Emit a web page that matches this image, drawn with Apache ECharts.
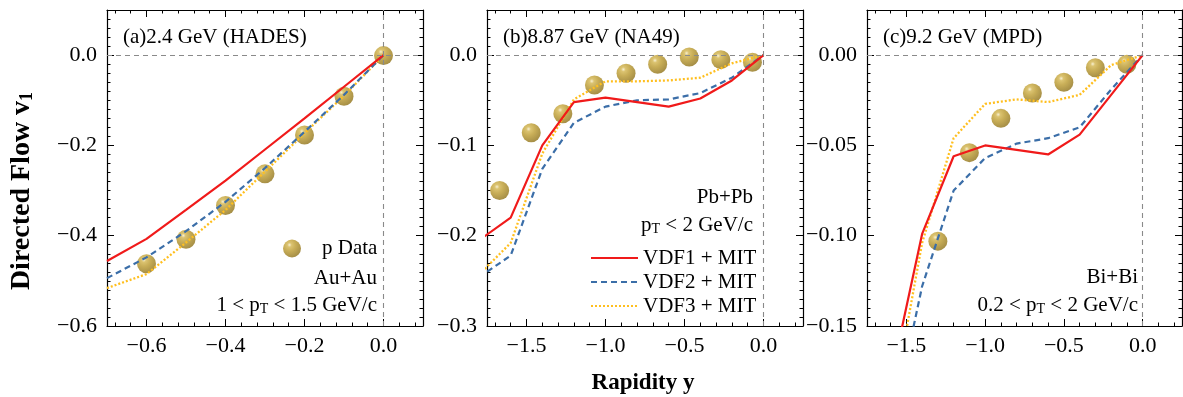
<!DOCTYPE html>
<html>
<head>
<meta charset="utf-8">
<script src="https://cdn.jsdelivr.net/npm/echarts@6/dist/echarts.min.js"></script>
<style>
html,body{margin:0;padding:0;background:#fff;}
#chart{width:1183px;height:397px;}
</style>
</head>
<body>
<div id="chart"></div>
<script>
// ---------------- DATA ----------------
// Panel (a) 2.4 GeV HADES
const aDataX = [-0.6, -0.5, -0.4, -0.3, -0.2, -0.1, 0.0];
const aDataY = [-0.462, -0.408, -0.333, -0.263, -0.177, -0.091, -0.001];
const aLineX = [-0.7, -0.6, -0.5, -0.4, -0.3, -0.2, -0.1, 0.0];
const aVDF1 = [-0.456, -0.407, -0.343, -0.278, -0.209, -0.140, -0.070, 0.0];
const aVDF2 = [-0.494, -0.448, -0.390, -0.325, -0.250, -0.170, -0.088, 0.0];
const aVDF3 = [-0.516, -0.485, -0.415, -0.343, -0.258, -0.173, -0.090, 0.0];

// Panel (b) 8.87 GeV NA49
const bDataX = [-1.67, -1.47, -1.27, -1.07, -0.87, -0.67, -0.47, -0.27, -0.07];
const bDataY = [-0.150, -0.086, -0.065, -0.033, -0.020, -0.010, -0.002, -0.005, -0.008];
const bLineX = [-1.8, -1.6, -1.4, -1.2, -1.0, -0.8, -0.6, -0.4, -0.2, 0.0];
const bVDF1 = [-0.205, -0.180, -0.100, -0.052, -0.047, -0.052, -0.057, -0.048, -0.028, 0.0];
const bVDF2 = [-0.246, -0.222, -0.126, -0.075, -0.057, -0.050, -0.049, -0.042, -0.025, 0.0];
const bVDF3 = [-0.243, -0.208, -0.109, -0.049, -0.029, -0.029, -0.028, -0.025, -0.009, 0.0];

// Panel (c) 9.2 GeV MPD
const cDataX = [-1.3, -1.1, -0.9, -0.7, -0.5, -0.3, -0.1];
const cDataY = [-0.103, -0.054, -0.035, -0.021, -0.015, -0.007, -0.005];
const cLineX = [-1.6, -1.4, -1.2, -1.0, -0.8, -0.6, -0.4, -0.2, 0.0];
const cVDF1 = [-0.180, -0.099, -0.056, -0.050, -0.0525, -0.055, -0.044, -0.022, 0.0];
const cVDF2 = [-0.210, -0.128, -0.075, -0.057, -0.049, -0.046, -0.040, -0.019, 0.0];
const cVDF3 = [-0.200, -0.104, -0.046, -0.027, -0.0245, -0.026, -0.022, -0.0055, 0.0];

// Tick values and labels
const aXTicks = [-0.6, -0.4, -0.2, 0.0];
const aXLabels = ['\u22120.6', '\u22120.4', '\u22120.2', '0.0'];
const aYTicks = [-0.6, -0.4, -0.2, 0.0];
const aYLabels = ['\u22120.6', '\u22120.4', '\u22120.2', '0.0'];
const bcXTicks = [-1.5, -1.0, -0.5, 0.0];
const bcXLabels = ['\u22121.5', '\u22121.0', '\u22120.5', '0.0'];
const bYTicks = [-0.3, -0.2, -0.1, 0.0];
const bYLabels = ['\u22120.3', '\u22120.2', '\u22120.1', '0.0'];
const cYTicks = [-0.15, -0.10, -0.05, 0.0];
const cYLabels = ['\u22120.15', '\u22120.10', '\u22120.05', '0.00'];

const seriesNames = ['VDF1 + MIT', 'VDF2 + MIT', 'VDF3 + MIT'];
const dataName = 'p Data';

// ---------------- STYLE ----------------
const FONT = 'Liberation Serif';
const RED = '#f01a1a', BLUE = '#3b6ea8', YEL = '#ffbf1f';

const panels = [
  { grid: {left: 107, top: 10, width: 316, height: 316},
    xr: [-0.7, 0.1], yr: [-0.6, 0.1], xMinor: 0.04, yMinor: 0.02,
    xt: aXTicks, xl: aXLabels, yt: aYTicks, yl: aYLabels,
    dx: aDataX, dy: aDataY, lx: aLineX, lines: [aVDF1, aVDF2, aVDF3] },
  { grid: {left: 487, top: 10, width: 316, height: 316},
    xr: [-1.75, 0.25], yr: [-0.3, 0.05], xMinor: 0.1, yMinor: 0.01,
    xt: bcXTicks, xl: bcXLabels, yt: bYTicks, yl: bYLabels,
    dx: bDataX, dy: bDataY, lx: bLineX, lines: [bVDF1, bVDF2, bVDF3] },
  { grid: {left: 867, top: 10, width: 315, height: 316},
    xr: [-1.75, 0.25], yr: [-0.15, 0.025], xMinor: 0.1, yMinor: 0.005,
    xt: bcXTicks, xl: bcXLabels, yt: cYTicks, yl: cYLabels,
    dx: cDataX, dy: cDataY, lx: cLineX, lines: [cVDF1, cVDF2, cVDF3] }
];

function minorVals(r, step) {
  const out = [];
  const k0 = Math.ceil(r[0] / step - 1e-9), k1 = Math.floor(r[1] / step + 1e-9);
  for (let k = k0; k <= k1; k++) out.push(Math.round(k * step * 1e6) / 1e6);
  return out;
}
function fmt(ticks, labels) {
  return function (v) {
    const i = ticks.findIndex(t => Math.abs(t - v) < 1e-7);
    return i >= 0 ? labels[i] : '';
  };
}

const grids = [], xAxes = [], yAxes = [], series = [];
const lineCol = {color: '#000', width: 1.2};
const tickCol = {color: '#000', width: 1};

panels.forEach((p, gi) => {
  grids.push(Object.assign({containLabel: false, outerBoundsMode: 'none'}, p.grid));
  const xMin = minorVals(p.xr, p.xMinor), yMin = minorVals(p.yr, p.yMinor);
  const base = {type: 'value', gridIndex: gi, splitLine: {show: false}, minorTick: {show: false}, minorSplitLine: {show: false}};
  xAxes.push(Object.assign({}, base, {position: 'bottom', min: p.xr[0], max: p.xr[1],
    axisLine: {show: true, onZero: false, lineStyle: lineCol},
    axisTick: {show: true, inside: true, length: 7, customValues: p.xt, lineStyle: tickCol},
    axisLabel: {show: true, customValues: p.xt, formatter: fmt(p.xt, p.xl), margin: 9,
      fontFamily: FONT, fontSize: 22, color: '#000'}}));
  xAxes.push(Object.assign({}, base, {position: 'bottom', min: p.xr[0], max: p.xr[1],
    axisLine: {show: false, onZero: false},
    axisTick: {show: true, inside: true, length: 3.5, customValues: xMin, lineStyle: tickCol},
    axisLabel: {show: false}}));
  xAxes.push(Object.assign({}, base, {position: 'top', min: p.xr[0], max: p.xr[1],
    axisLine: {show: true, onZero: false, lineStyle: lineCol},
    axisTick: {show: true, inside: true, length: 7, customValues: p.xt, lineStyle: tickCol},
    axisLabel: {show: false}}));
  xAxes.push(Object.assign({}, base, {position: 'top', min: p.xr[0], max: p.xr[1],
    axisLine: {show: false, onZero: false},
    axisTick: {show: true, inside: true, length: 3.5, customValues: xMin, lineStyle: tickCol},
    axisLabel: {show: false}}));
  yAxes.push(Object.assign({}, base, {position: 'left', min: p.yr[0], max: p.yr[1],
    axisLine: {show: true, onZero: false, lineStyle: lineCol},
    axisTick: {show: true, inside: true, length: 7, customValues: p.yt, lineStyle: tickCol},
    axisLabel: {show: true, customValues: p.yt, formatter: fmt(p.yt, p.yl), margin: 10,
      fontFamily: FONT, fontSize: 22, color: '#000'}}));
  yAxes.push(Object.assign({}, base, {position: 'left', min: p.yr[0], max: p.yr[1],
    axisLine: {show: false, onZero: false},
    axisTick: {show: true, inside: true, length: 3.5, customValues: yMin, lineStyle: tickCol},
    axisLabel: {show: false}}));
  yAxes.push(Object.assign({}, base, {position: 'right', min: p.yr[0], max: p.yr[1],
    axisLine: {show: true, onZero: false, lineStyle: lineCol},
    axisTick: {show: true, inside: true, length: 7, customValues: p.yt, lineStyle: tickCol},
    axisLabel: {show: false}}));
  yAxes.push(Object.assign({}, base, {position: 'right', min: p.yr[0], max: p.yr[1],
    axisLine: {show: false, onZero: false},
    axisTick: {show: true, inside: true, length: 3.5, customValues: yMin, lineStyle: tickCol},
    axisLabel: {show: false}}));

  const xi = gi * 4, yi = gi * 4;
  series.push({
    name: dataName, type: 'scatter', xAxisIndex: xi, yAxisIndex: yi,
    data: p.dx.map((x, i) => [x, p.dy[i]]),
    symbol: 'circle', symbolSize: 19, z: 3,
    itemStyle: {
      color: {type: 'radial', x: 0.36, y: 0.3, r: 0.75, colorStops: [
        {offset: 0, color: '#f6ecc6'}, {offset: 0.16, color: '#d2b44d'},
        {offset: 0.45, color: '#bb9a2e'}, {offset: 1, color: '#8c6f16'}]}
    },
    markLine: {
      silent: true, symbol: ['none', 'none'], label: {show: false}, animation: false,
      lineStyle: {type: [5, 4], color: '#8a8a8a', width: 1.1},
      emphasis: {disabled: true},
      data: [{yAxis: 0}, {xAxis: 0}]
    }
  });
  const styles = [
    {color: RED, width: 2.2, type: 'solid'},
    {color: BLUE, width: 2.2, type: [6, 4]},
    {color: YEL, width: 2.3, type: [2, 2]}
  ];
  p.lines.forEach((arr, li) => {
    series.push({
      name: seriesNames[li], type: 'line', xAxisIndex: xi, yAxisIndex: yi,
      data: p.lx.map((x, i) => [x, arr[i]]),
      symbol: 'none', clip: true, z: 4 - li * 0.1,
      lineStyle: styles[li], itemStyle: {color: styles[li].color}
    });
  });
});

const txt = (x, y, text, align) => ({
  type: 'text', x: x, y: y, z: 100,
  style: {
    text: text, align: align, verticalAlign: 'middle', fill: '#000',
    fontFamily: FONT, fontSize: 21,
    rich: {sub: {fontSize: 14, fontFamily: FONT, verticalAlign: 'bottom', padding: [8, 0, 0, 0]},
           n: {fontSize: 21, fontFamily: FONT}}
  }
});

const graphics = [
  txt(123, 37, '(a)2.4 GeV (HADES)', 'left'),
  txt(503, 37, '(b)8.87 GeV (NA49)', 'left'),
  txt(883, 37, '(c)9.2 GeV (MPD)', 'left'),
  txt(377, 278, 'Au+Au', 'right'),
  txt(377, 305, '{n|1 < p}{sub|T}{n| < 1.5 GeV/c}', 'right'),
  txt(753, 197, 'Pb+Pb', 'right'),
  txt(753, 225, '{n|p}{sub|T}{n| < 2 GeV/c}', 'right'),
  txt(1138, 277, 'Bi+Bi', 'right'),
  txt(1138, 305, '{n|0.2 < p}{sub|T}{n| < 2 GeV/c}', 'right'),
  {type: 'text', x: 643, y: 383, z: 100, style: {text: 'Rapidity y', align: 'center', verticalAlign: 'middle',
    fill: '#000', fontFamily: FONT, fontSize: 23, fontWeight: 'bold'}},
  {type: 'text', x: 22, y: 191, rotation: Math.PI / 2, z: 100, style: {
    text: '{n|Directed Flow v}{sub|1}', align: 'center', verticalAlign: 'middle', fill: '#000',
    rich: {n: {fontFamily: FONT, fontSize: 28, fontWeight: 'bold'},
           sub: {fontFamily: FONT, fontSize: 18, fontWeight: 'bold', verticalAlign: 'bottom', padding: [10, 0, 0, 0]}}}}
];

const chart = echarts.init(document.getElementById('chart'), null, {renderer: 'canvas'});
chart.setOption({
  animation: false,
  backgroundColor: '#fff',
  grid: grids, xAxis: xAxes, yAxis: yAxes, series: series,
  legend: [
    {data: [dataName], orient: 'vertical', left: 278, top: 233, itemWidth: 50, itemHeight: 18,
     itemGap: 5, selectedMode: false,
     textStyle: {fontFamily: FONT, fontSize: 21, color: '#000'}},
    {data: seriesNames.map(n => ({name: n, itemStyle: {opacity: 0, borderWidth: 0}})),
     orient: 'vertical', left: 590, top: 247.5, padding: 0, itemWidth: 47, itemHeight: 14,
     itemGap: 3, selectedMode: false,
     textStyle: {fontFamily: FONT, fontSize: 21, color: '#000'}}
  ],
  graphic: graphics
});
</script>
</body>
</html>
